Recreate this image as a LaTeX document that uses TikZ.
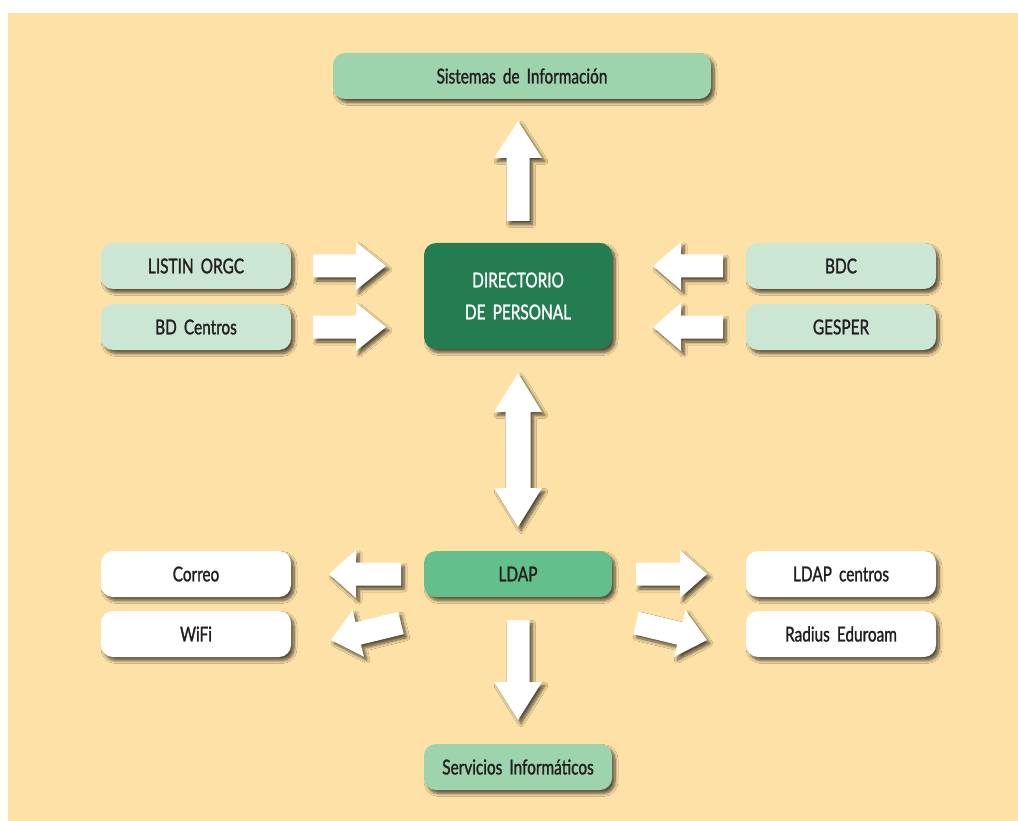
\documentclass[tikz,border=0pt]{standalone}
\usepackage{fontspec}
\setmainfont{Lato}[FakeStretch=0.75, WordSpace=1.8, FakeBold=1.3]
\usetikzlibrary{shadows.blur}
\definecolor{bgc}{HTML}{FEE1A6}
\definecolor{infogreen}{HTML}{9DD3AD}
\definecolor{palegreen}{HTML}{CBE6D3}
\definecolor{darkgreen}{HTML}{247C51}
\definecolor{ldapgreen}{HTML}{63C08C}
\definecolor{ink}{HTML}{231F20}
\tikzset{
  softshadow/.style={blur shadow={shadow xshift=3pt, shadow yshift=-3.5pt,
      shadow blur radius=3pt, shadow blur steps=8, shadow opacity=65}},
  box/.style={rounded corners=12pt, minimum width=190pt, minimum height=46pt,
      inner sep=0pt, text=ink, font=\fontsize{20.5}{22}\selectfont, softshadow},
  source/.style={box, fill=palegreen},
  target/.style={box, fill=white},
  arrowfill/.style={fill=white, softshadow},
}
% block arrow: tail coordinate, direction (deg), length, head length
\newcommand{\blockarrow}[4]{%
  \begin{scope}[shift={(#1)}, rotate=#2, x=1pt, y=1pt]
    \fill[arrowfill] (0,11.5) -- ({#3-#4},11.5) -- ({#3-#4},24) -- (#3,0)
      -- ({#3-#4},-24) -- ({#3-#4},-11.5) -- (0,-11.5) -- cycle;
  \end{scope}}
\begin{document}
\begin{tikzpicture}[x=1pt, y=-1pt]
  \useasboundingbox[fill=white] (0,0) rectangle (1018,821);
  \fill[bgc] (8,13) rectangle (1018,821);

  % boxes
  \node[box, fill=infogreen, minimum width=378pt] (info) at (522,76) {Sistemas de Información};
  \node[source] (listin) at (196,266) {LISTIN ORGC};
  \node[source] (bdcentros) at (196,327) {BD Centros};
  \node[source] (bdc) at (841,266) {BDC};
  \node[source] (gesper) at (841,327) {GESPER};
  \node[box, fill=darkgreen, text=white, minimum width=188pt, minimum height=106pt,
        align=center, font=\fontsize{20.5}{32}\selectfont] (dir) at (518,296)
        {DIRECTORIO\\DE PERSONAL};
  \node[box, fill=ldapgreen, minimum width=188pt] (ldap) at (518,574) {LDAP};
  \node[target] (correo) at (196,574) {Correo};
  \node[target] (wifi) at (196,634) {WiFi};
  \node[target] (ldapc) at (841,574) {LDAP centros};
  \node[target] (radius) at (841,634) {Radius Eduroam};
  \node[box, fill=infogreen, minimum width=188pt] (serv) at (518,767) {Servicios Informáticos};

  % arrow tails
  \coordinate (dirup) at (518,221);
  \coordinate (listinout) at (313,266);
  \coordinate (bdcentrosout) at (313,327);
  \coordinate (bdcout) at (723,266);
  \coordinate (gesperout) at (723,327);
  \coordinate (ldapleft) at (401,574);
  \coordinate (ldapleftlow) at (401,623);
  \coordinate (ldapright) at (636,574);
  \coordinate (ldaprightlow) at (636,623);
  \coordinate (ldapdown) at (518,620);

  \blockarrow{dirup}{90}{100}{37}
  \blockarrow{listinout}{0}{73}{30}
  \blockarrow{bdcentrosout}{0}{73}{30}
  \blockarrow{bdcout}{180}{70}{28}
  \blockarrow{gesperout}{180}{70}{28}
  \blockarrow{ldapleft}{180}{72}{27}
  \blockarrow{ldapleftlow}{193.7}{72}{28}
  \blockarrow{ldapright}{0}{71}{27}
  \blockarrow{ldaprightlow}{-13.5}{73}{28}
  \blockarrow{ldapdown}{-90}{100}{38}

  % two-headed arrow between the directory and LDAP
  \coordinate (dbl) at (518,373);
  \begin{scope}[shift={(dbl)}, x=1pt, y=-1pt]
    \fill[arrowfill] (0,0) -- (24,39) -- (12.5,39) -- (12.5,115) -- (24,115)
      -- (0,154) -- (-24,115) -- (-12.5,115) -- (-12.5,39) -- (-24,39) -- cycle;
  \end{scope}
\end{tikzpicture}
\end{document}
